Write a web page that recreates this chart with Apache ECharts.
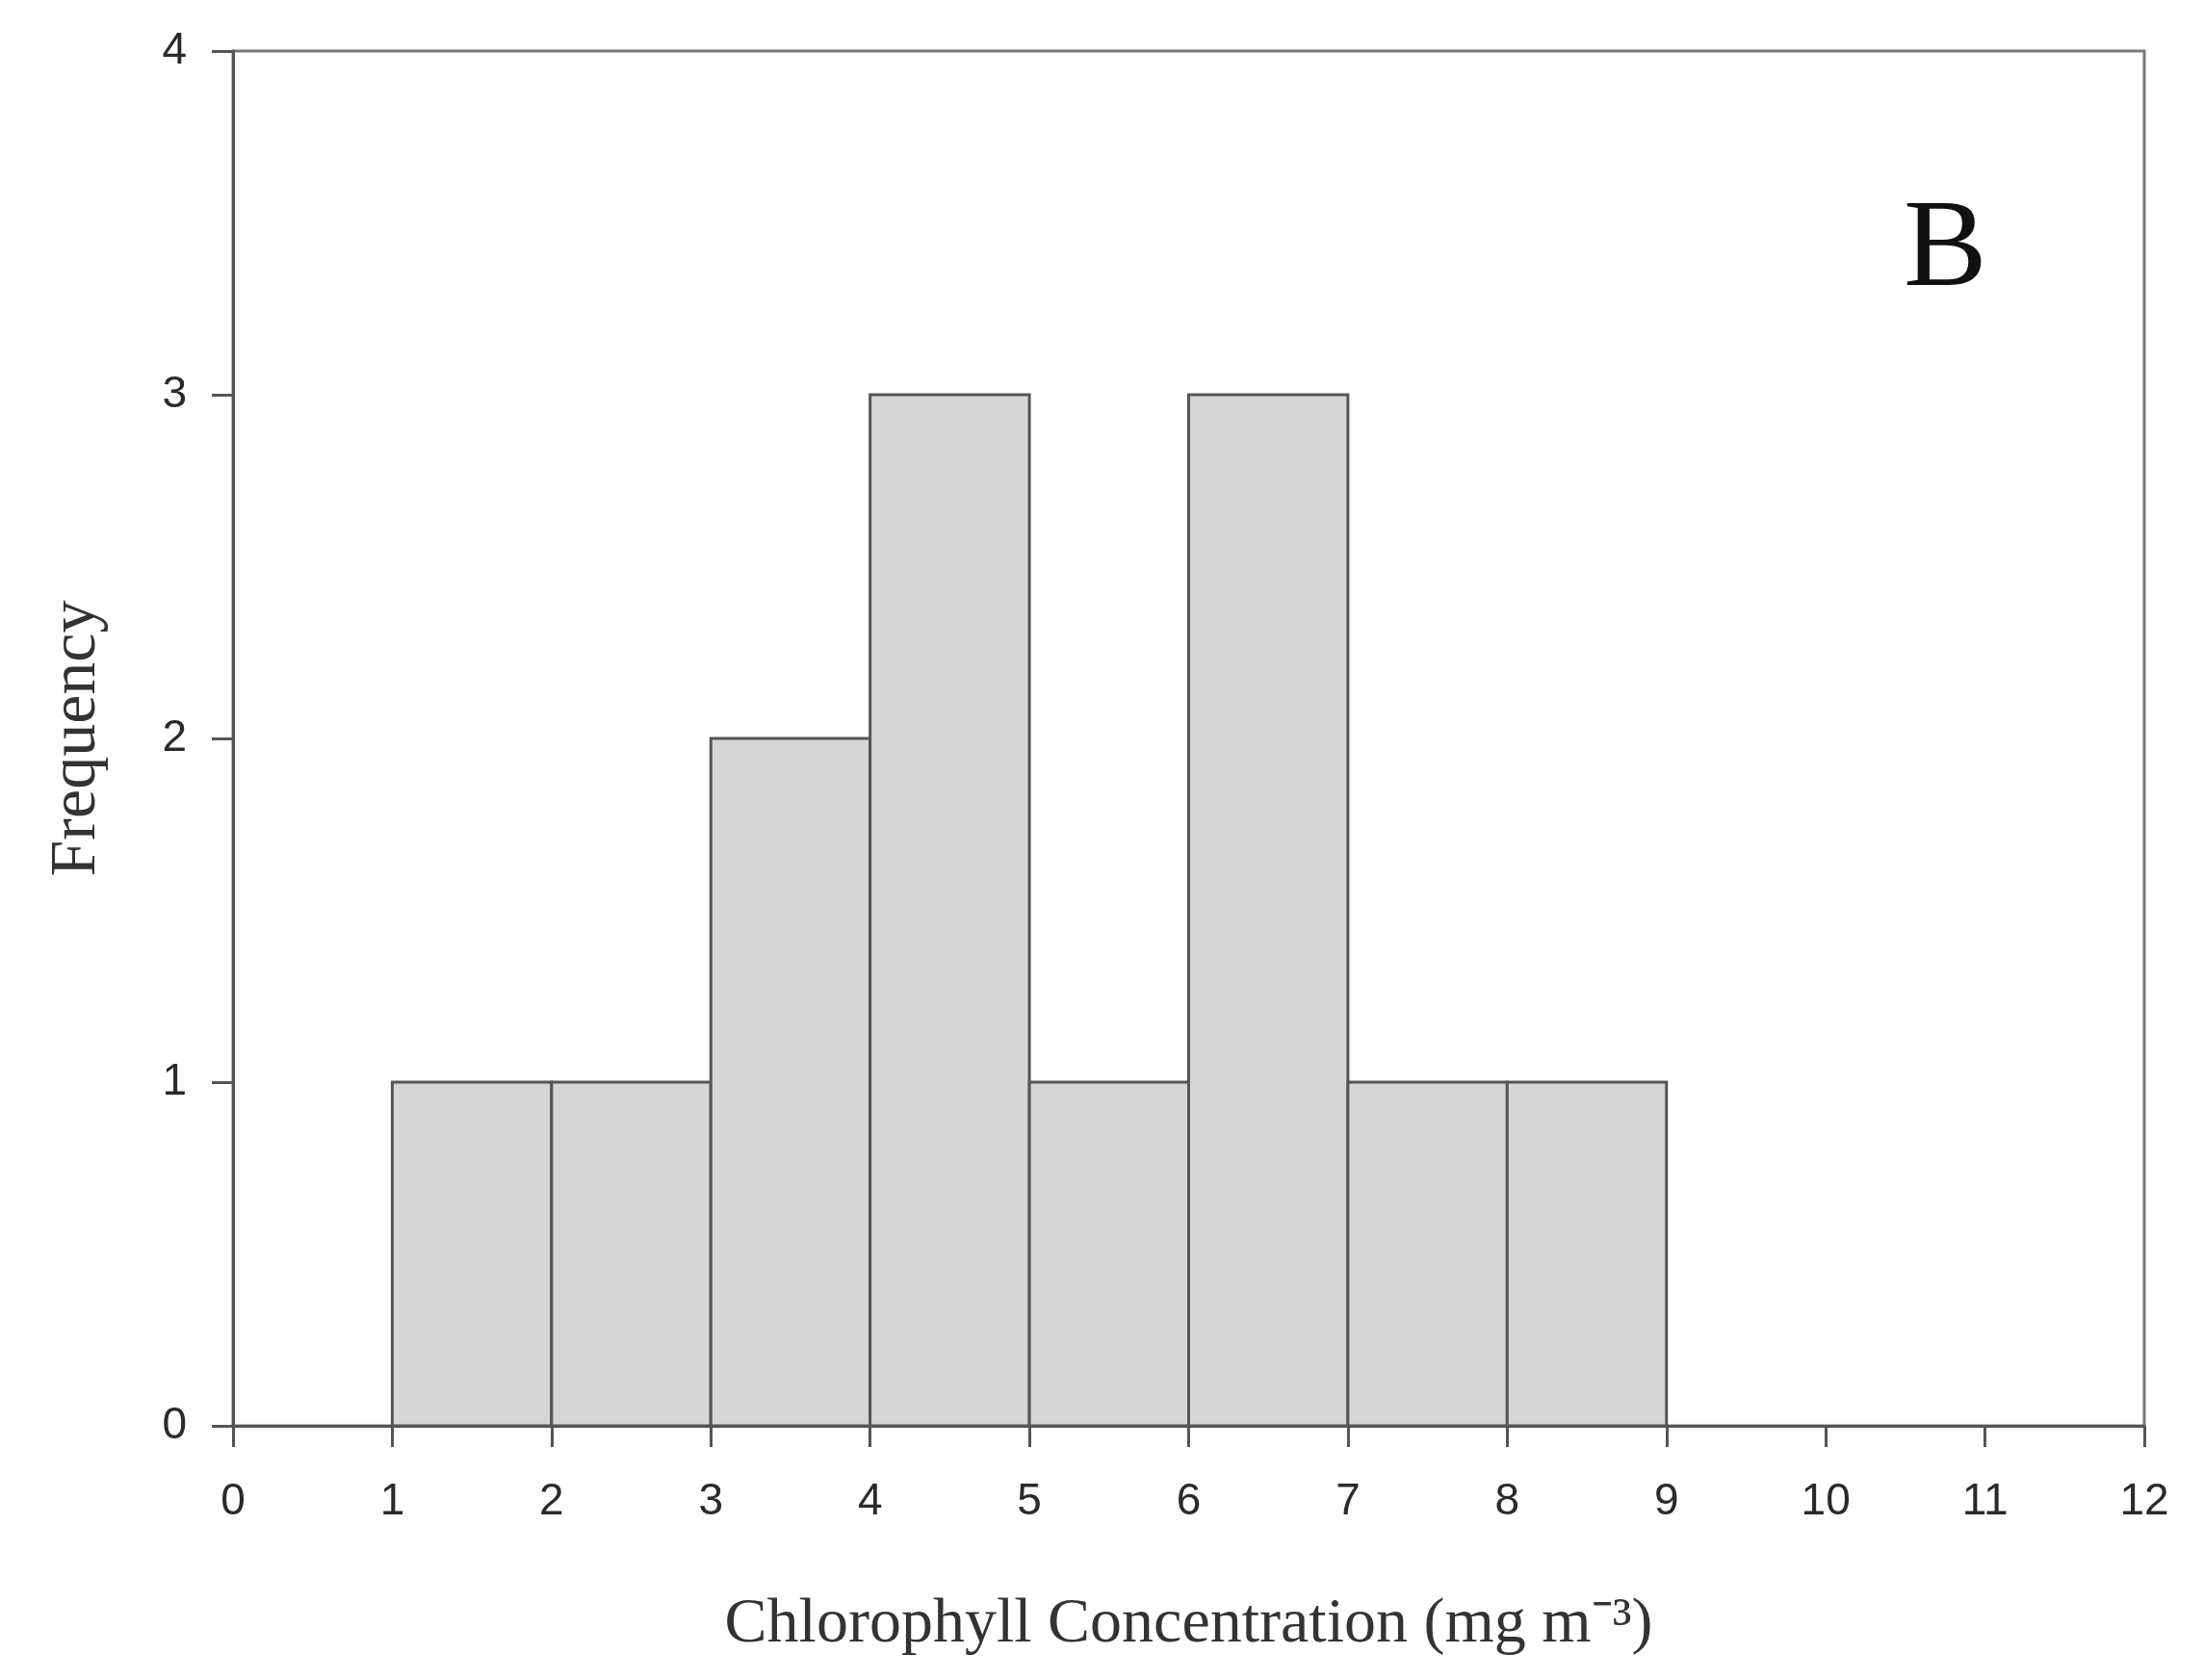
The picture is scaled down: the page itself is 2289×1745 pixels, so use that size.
<!DOCTYPE html>
<html>
<head>
<meta charset="utf-8">
<script src="https://cdn.jsdelivr.net/npm/echarts@6/dist/echarts.min.js"></script>
<style>
  html, body { margin: 0; padding: 0; background: #ffffff; }
  #chart { width: 2289px; height: 1745px; }
</style>
</head>
<body>
<div id="chart"></div>
<script>
// Histogram bins (mg m^-3) and their frequencies
const binStart = [1, 2, 3, 4, 5, 6, 7, 8];
const binEnd = [2, 3, 4, 5, 6, 7, 8, 9];
const frequency = [1, 1, 2, 3, 1, 3, 1, 1];
const xTickLabels = ['0', '1', '2', '3', '4', '5', '6', '7', '8', '9', '10', '11', '12'];
const yTickLabels = ['0', '1', '2', '3', '4'];
const xAxisTitle = 'Chlorophyll Concentration (mg m\u207B\u00B3)';
const yAxisTitle = 'Frequency';
const panelLabel = 'B';

const data = binStart.map((s, i) => [s, binEnd[i], frequency[i]]);

const chart = echarts.init(document.getElementById('chart'), null, { renderer: 'canvas' });

const tickFont = { fontFamily: 'Liberation Sans', fontSize: 46, color: '#2a2a2a' };

chart.setOption({
  backgroundColor: '#ffffff',
  animation: false,
  title: {
    text: panelLabel,
    left: 1972,
    top: 192,
    textStyle: { fontFamily: 'Liberation Serif', fontSize: 130, fontWeight: 'normal', color: '#111' }
  },
  grid: {
    left: 242, right: 62, top: 53, bottom: 264,
    show: true, borderColor: '#777', borderWidth: 3, backgroundColor: 'transparent'
  },
  xAxis: {
    type: 'value',
    min: 0, max: 12, interval: 1,
    name: xAxisTitle,
    nameLocation: 'middle',
    nameGap: 174,
    nameTextStyle: { fontFamily: 'Liberation Serif', fontSize: 66, color: '#333' },
    axisLine: { show: true, lineStyle: { color: '#555', width: 3 } },
    axisTick: { show: true, length: 22, lineStyle: { color: '#555', width: 3 } },
    axisLabel: Object.assign({ margin: 56, formatter: v => xTickLabels[v] }, tickFont),
    splitLine: { show: false }
  },
  yAxis: {
    type: 'value',
    min: 0, max: 4, interval: 1,
    name: yAxisTitle,
    nameLocation: 'middle',
    nameGap: 128,
    nameTextStyle: { fontFamily: 'Liberation Serif', fontSize: 68, color: '#333' },
    axisLine: { show: true, lineStyle: { color: '#555', width: 3 } },
    axisTick: { show: true, length: 22, lineStyle: { color: '#555', width: 3 } },
    axisLabel: Object.assign({ margin: 48, formatter: v => yTickLabels[v] }, tickFont),
    splitLine: { show: false }
  },
  series: [{
    type: 'custom',
    data: data,
    encode: { x: [0, 1], y: 2 },
    renderItem: function (params, api) {
      const p0 = api.coord([api.value(0), 0]);
      const p1 = api.coord([api.value(1), api.value(2)]);
      return {
        type: 'rect',
        shape: { x: p0[0], y: p1[1], width: p1[0] - p0[0], height: p0[1] - p1[1] },
        style: { fill: '#d6d6d6', stroke: '#555', lineWidth: 3 }
      };
    }
  }]
});
</script>
</body>
</html>
